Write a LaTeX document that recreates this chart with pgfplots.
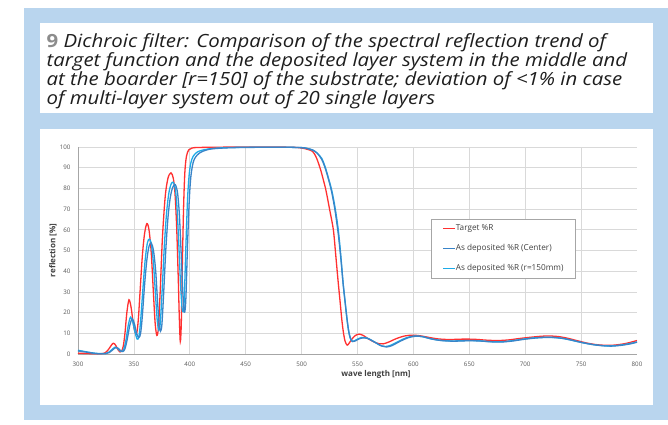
\documentclass[border=0pt]{standalone}
\usepackage{fontspec}
\setmainfont{Open Sans}
\newfontfamily\titlefont[FakeStretch=1.12]{Open Sans}
\usepackage{pgfplots}
\pgfplotsset{compat=1.18}
\definecolor{panelblue}{HTML}{B9D5EE}
\definecolor{numgray}{HTML}{8C8C8C}
\definecolor{titletext}{HTML}{1E1E1E}
\definecolor{gridgray}{HTML}{D9D9D9}
\definecolor{axisgray}{HTML}{A6A6A6}
\definecolor{ticktext}{HTML}{595959}
\definecolor{labeltext}{HTML}{404040}
\definecolor{tgtred}{HTML}{FF3030}
\definecolor{ctrblue}{HTML}{3984C8}
\definecolor{rblue}{HTML}{1DAAE8}

\begin{document}
\begin{tikzpicture}
\useasboundingbox (0pt,0pt) rectangle (668pt,424pt);
\fill[white] (0pt,0pt) rectangle (668pt,424pt);
\fill[panelblue] (24pt,4pt) rectangle (668pt,416pt);
\fill[white] (40pt,311pt) rectangle (653pt,401pt);
\fill[white] (40pt,19pt) rectangle (653pt,295pt);

% caption
\node[anchor=north west, inner sep=0pt, align=left, text=titletext,
  font=\titlefont\fontsize{18.2}{19}\selectfont\itshape] at (46.5pt,391pt)
  {{\upshape\bfseries\color{numgray}9} Dichroic filter: Comparison of the spectral reflection trend of\\
   target function and the deposited layer system in the middle and\\
   at the boarder [r=150] of the substrate; deviation of <1\% in case\\
   of multi-layer system out of 20 single layers};

\begin{axis}[
  at={(78pt,70pt)}, anchor=south west,
  scale only axis, width=559pt, height=207pt,
  xmin=300, xmax=800, ymin=0, ymax=100,
  xtick={300,350,...,750}, extra x ticks={800}, extra x tick style={grid=none},
  ytick={0,10,...,100},
  major tick length=0pt,
  grid=major, grid style={line width=0.8pt, gridgray},
  axis x line*=bottom, axis y line*=left,
  axis line style={-, line width=0.9pt, axisgray},
  /pgf/number format/assume math mode=true,
  ticklabel style={font=\fontsize{6.2}{7}\selectfont, text=ticktext},
  xticklabel style={yshift=-4pt},
  yticklabel style={xshift=-4pt},
  xlabel={wave length [nm]},
  ylabel={reflection [\%]},
  label style={font=\fontsize{8}{9}\selectfont\bfseries, text=labeltext},
  xlabel style={at={(axis description cs:0.533,-0.097)}, anchor=center},
  ylabel style={at={(axis description cs:-0.045,0.5)}, anchor=center},
  clip=false,
  legend style={at={(axis description cs:0.6315,0.652)}, anchor=north west,
    draw=axisgray, line width=0.6pt, fill=white,
    font=\fontsize{8.2}{9}\selectfont, text=labeltext,
    inner xsep=11.5pt, inner ysep=5pt, row sep=11pt,
    nodes={inner sep=0.6pt}},
  legend cell align=left,
  legend image code/.code={\draw[#1, line width=0.9pt] (0pt,0pt) -- (11.5pt,0pt);},
  every axis plot/.append style={line width=1.3pt, smooth, tension=0.5},
]
\addlegendimage{tgtred}
\addlegendentry{Target \%R}
\addlegendimage{ctrblue}
\addlegendentry{As deposited \%R (Center)}
\addlegendimage{rblue}
\addlegendentry{As deposited \%R (r=150mm)}

% Target %R
\addplot[tgtred, forget plot] coordinates {
(300,0.4)(305,0.3)(310,0.2)(315,0.1)(320,0.1)(324,0.5)(327,2.0)(329.5,4.0)(331.5,5.2)(333.5,4.4)(335.5,2.3)(337.5,1.0)(339,1.4)(340.5,3.8)(342,10)(343.7,20)(345.6,26.2)(347.5,22.5)(349.5,14.5)(351.3,10)(352.7,10.5)(354,17)(355.5,30)(357.5,47)(359.5,58)(361.6,63)(363.5,60)(365.5,49)(367.5,29)(369,15)(370.5,9)(372,13)(373.5,30)(375.5,56)(378,76)(380.5,85)(383.2,87.5)(385.2,85)(386.7,78)(388.2,62)(389.6,38)(390.6,18)(391.5,6)(392.4,15)(393.4,45)(394.5,72)(395.6,88)(397,95.5)(399,98.6)(402,99.5)(410,99.8)(450,100)(490,99.9)(500,99.5)(505,98.9)(510,97.8)(513.5,94.5)(517,89)(519.5,84)(521.8,79)(525,70)(528.4,60)(530.5,48)(532.5,36)(534.3,26)(536,16.5)(537.5,10)(539,6)(540.8,4.3)(542.5,5.2)(545,7.2)(548,8.9)(551.5,9.6)(555,9)(559,7.6)(564,6)(569,5)(573,4.9)(578,5.8)(585,7.5)(592,8.7)(599,9.1)(606,8.8)(614,8)(622,7.3)(632,7)(645,7.2)(655,7.1)(665,6.7)(675,6.5)(685,6.8)(695,7.5)(705,8.1)(715,8.6)(722,8.7)(730,8.4)(738,7.6)(746,6.5)(755,5.3)(764,4.5)(772,4.2)(780,4.3)(790,5.1)(800,6.5)
};
% As deposited %R (r=150mm)
\addplot[rblue, forget plot] coordinates {
(300,1.8)(305,1.3)(310,0.8)(315,0.4)(320,0.2)(325,0.3)(328,1.0)(331,2.5)(333.2,3.3)(335.3,2.8)(337.3,1.6)(339.2,1.2)(341,2.5)(343,7)(345,14)(347,17.8)(349,15.5)(351,10.5)(353,7.2)(354.5,8.5)(356,16)(358,31)(360,45)(362,53.5)(363.8,55.5)(365.6,53)(367.6,43)(369.5,27)(371,15.5)(372.3,11.5)(373.6,15)(375.2,30)(377.2,52)(379.2,68)(381.2,77.5)(383.2,82)(385,83)(386.8,80.5)(388.4,72)(390,55)(391.6,35)(393,22.5)(394,20.5)(395,26)(396.5,52)(398,75)(399.5,87)(401,92.5)(403,95.5)(406,97.3)(410,98.3)(420,99.3)(440,99.8)(480,99.9)(500,99.7)(505,99.3)(510,98.5)(514,97)(518,94.5)(521,90.5)(524,85)(527,79)(530,70.5)(532.8,60)(535,48)(537,35)(538.8,26)(540.3,18.5)(541.8,12)(543.3,8)(545,6.2)(547,6.3)(550,7.2)(554,8)(558,7.8)(562,6.8)(567,5.2)(571,4)(575,3.6)(580,4.3)(587,6.2)(594,7.9)(601,8.7)(608,8.4)(615,7.4)(624,6.6)(635,6.3)(648,6.5)(658,6.4)(668,6)(678,5.9)(688,6.4)(698,7.2)(708,7.8)(718,8.1)(726,8)(734,7.5)(742,6.6)(750,5.6)(760,4.6)(768,4.1)(776,3.9)(785,4.3)(793,5)(800,5.8)
};
% As deposited %R (Center)
\addplot[ctrblue, forget plot] coordinates {
(300,1.5)(305,1.1)(310,0.7)(315,0.3)(320,0.1)(325,0.2)(328,0.7)(331,2)(334,3.2)(336.2,2.7)(338.2,1.5)(340.2,1.2)(342,2.5)(344,7)(346.4,14)(348.5,17)(350.5,14.5)(352.5,9.8)(354.5,8)(356,10)(357.5,18)(359.5,33)(361.5,45)(363.5,52)(365.5,53.6)(367.5,50)(369.5,40)(371.3,24)(372.7,14)(373.8,11)(375,14)(376.5,28)(378.5,50)(380.5,66)(382.5,75.5)(384.7,80.5)(387,81.8)(389,78)(390.6,68)(392,52)(393.5,33)(394.7,22)(395.5,20.3)(396.5,27)(398,53)(399.5,74)(401,86)(403,92.5)(405,95)(408,96.8)(412,98)(420,99.1)(440,99.7)(480,99.9)(500,99.7)(505,99.3)(510,98.5)(514,97)(518,94)(521,90)(524,84.5)(527,78)(530,69)(533,57)(535.3,45)(537.3,33)(539.2,23.5)(540.8,16)(542.3,10.5)(543.8,7.5)(545.6,6)(548,6.3)(551,7.2)(555,7.8)(559,7.5)(563,6.5)(568,4.9)(572,3.8)(576,3.4)(581,4.1)(588,6.1)(595,7.8)(602,8.6)(609,8.3)(616,7.3)(625,6.5)(636,6.2)(649,6.4)(659,6.3)(669,5.9)(679,5.8)(689,6.3)(699,7.1)(709,7.7)(719,8)(727,7.9)(735,7.4)(743,6.5)(751,5.5)(761,4.5)(769,4)(777,3.8)(786,4.2)(794,4.9)(800,5.7)
};
\end{axis}
\end{tikzpicture}
\end{document}
